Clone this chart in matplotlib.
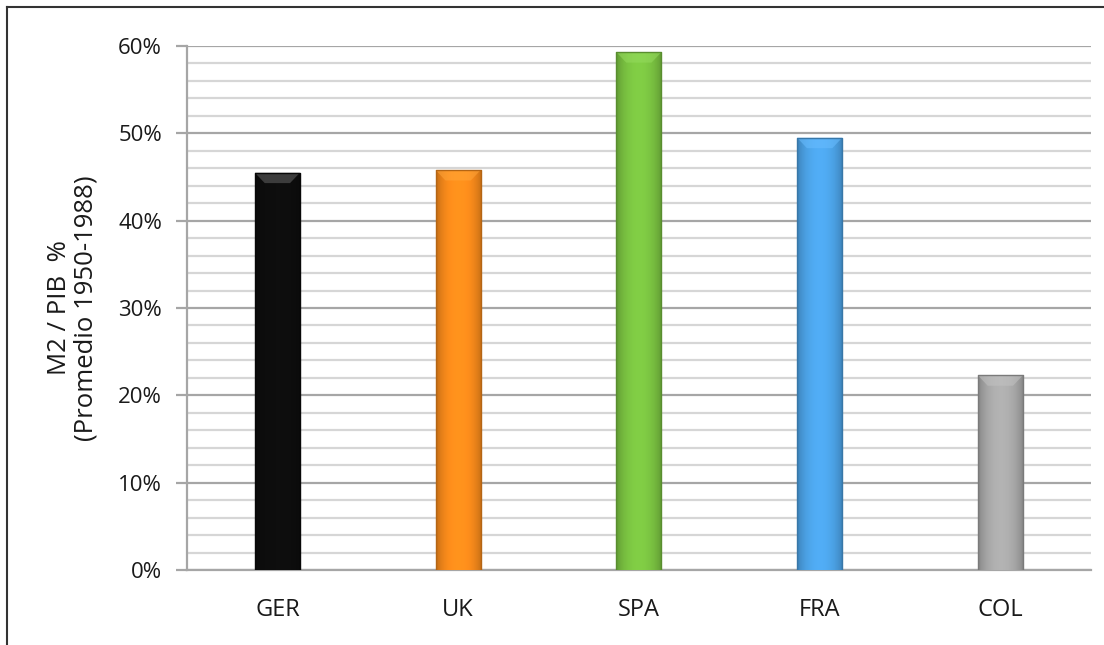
import matplotlib.pyplot as plt
import numpy as np
from matplotlib.ticker import MultipleLocator, PercentFormatter
from matplotlib.colors import to_rgb

# Data
countries = ['GER', 'UK', 'SPA', 'FRA', 'COL']
m2_pib = [0.455, 0.458, 0.593, 0.495, 0.223]
bar_colors = ['#0a0a0a', '#f0861a', '#76bc3f', '#4a9ee0', '#a3a3a3']

plt.rcParams['font.family'] = ['Open Sans', 'DejaVu Sans']

fig = plt.figure(figsize=(11.04, 6.45), dpi=100)
ax = fig.add_axes([0.1694, 0.1163, 0.8186, 0.8124])

x = np.arange(len(countries))
bars = ax.bar(x, m2_pib, width=0.25, color=bar_colors, zorder=3,
              edgecolor='none')

# shaded look: darker sides, lighter middle, lighter top bevel
for bar, col in zip(bars, bar_colors):
    base = np.array(to_rgb(col))
    bx, by = bar.get_x(), bar.get_y()
    bw, bh = bar.get_width(), bar.get_height()
    t = np.linspace(0, 1, 64)
    shade = 0.78 + 0.32 * np.sin(np.pi * t) ** 0.6
    if col == '#0a0a0a':
        rows = np.array([[0.05 * s] * 3 for s in shade])
    else:
        rows = np.clip(base[None, :] * shade[:, None], 0, 1)
    img = rows[None, :, :]
    im = ax.imshow(img, extent=[bx, bx + bw, by, by + bh], aspect='auto',
                   zorder=3.5, interpolation='bilinear')
    im.set_clip_path(bar)
    # top bevel
    bev = 0.012
    top = by + bh
    light = np.clip(base + (0.35 if col == '#0a0a0a' else 0.12), 0, 1)
    ax.fill([bx, bx + bw, bx + bw * 0.78, bx + bw * 0.22],
            [top, top, top - bev, top - bev], color=light, alpha=0.55,
            zorder=4, lw=0)
    ax.plot([bx, bx, bx + bw, bx + bw], [by, top, top, by],
            color=base * 0.75, lw=1.0, zorder=4.2)

ax.set_xlim(-0.5, len(countries) - 0.5)
ax.set_ylim(0, 0.6)
ax.yaxis.set_major_locator(MultipleLocator(0.1))
ax.yaxis.set_minor_locator(MultipleLocator(0.02))
ax.yaxis.set_major_formatter(PercentFormatter(1.0, decimals=0))

ax.grid(axis='y', which='major', color='#a6a6a6', lw=1.6, zorder=1)
ax.grid(axis='y', which='minor', color='#d6d6d6', lw=1.6, zorder=1)
ax.set_axisbelow(True)

for s in ['top', 'right']:
    ax.spines[s].set_visible(False)
ax.spines['left'].set_color('#a6a6a6')
ax.spines['left'].set_linewidth(1.6)
ax.spines['bottom'].set_color('#a6a6a6')
ax.spines['bottom'].set_linewidth(1.6)

ax.tick_params(axis='y', which='major', length=8, width=1.6, color='#a6a6a6',
               labelsize=16, labelcolor='#1a1a1a', pad=10)
ax.tick_params(axis='y', which='minor', length=0)
ax.tick_params(axis='x', length=0, labelsize=17, labelcolor='#1a1a1a', pad=20)
ax.set_xticks(x)
ax.set_xticklabels(countries)

ax.set_ylabel('M2 / PIB  %\n(Promedio 1950-1988)', fontsize=18.5,
              color='#1a1a1a', labelpad=14, linespacing=1.1)

# frame around the figure (only top and left edges show)
fig.add_artist(plt.Line2D([0.0063, 0.0063], [0, 0.989], color='#333333',
                          lw=1.5, transform=fig.transFigure))
fig.add_artist(plt.Line2D([0.0063, 1.0], [0.989, 0.989], color='#333333',
                          lw=1.5, transform=fig.transFigure))

fig.savefig('out.png', dpi=100)
